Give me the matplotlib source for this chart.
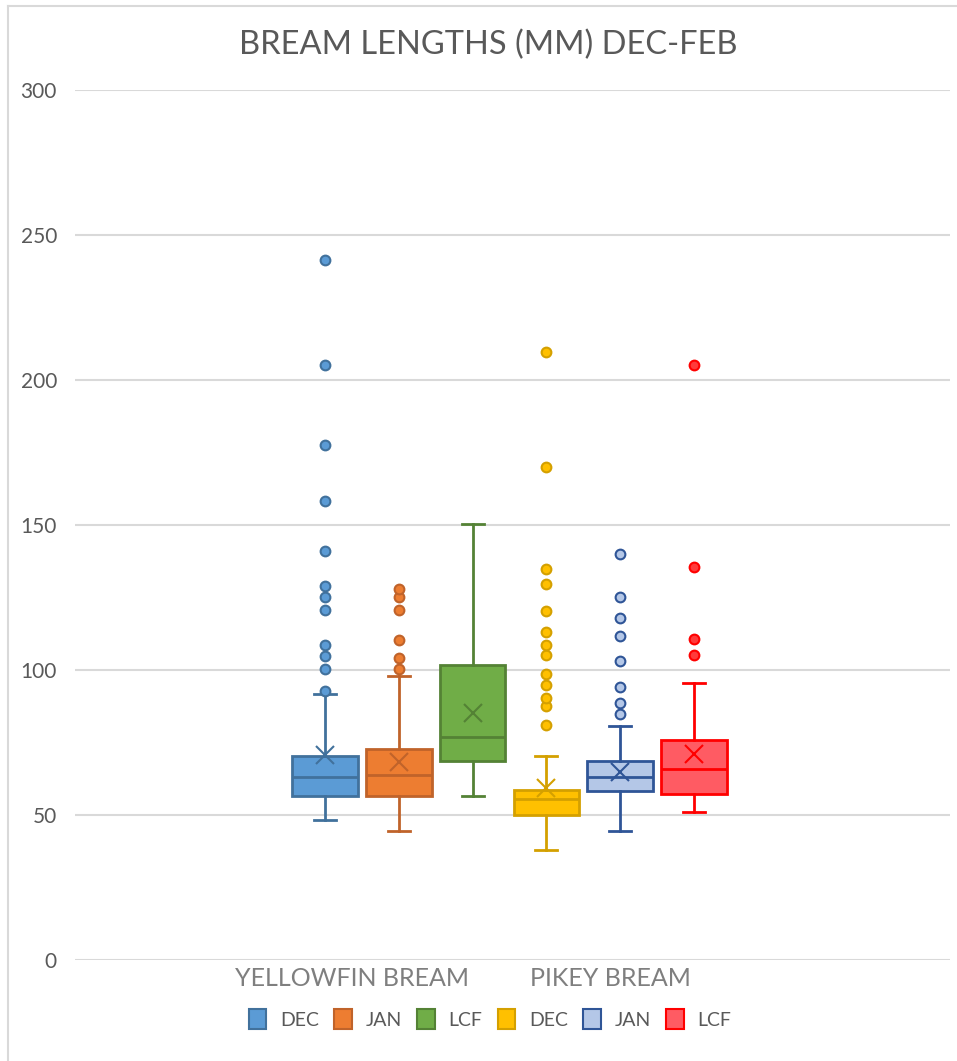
import matplotlib
matplotlib.use("Agg")
import matplotlib.pyplot as plt
from matplotlib.patches import Patch
from matplotlib.lines import Line2D

plt.rcParams['font.family'] = ['Lato', 'DejaVu Sans']

# ---- data (mm) ----
series_names = ["DEC", "JAN", "LCF", "DEC", "JAN", "LCF"]
categories = ["YELLOWFIN BREAM", "PIKEY BREAM"]

whis_lo = [48.2, 44.4, 56.5, 38.1, 44.4, 50.9]
q1      = [56.5, 56.5, 68.6, 49.9, 58.4, 57.2]
median  = [63.0, 63.9, 76.8, 55.6, 63.0, 65.7]
q3      = [70.4, 72.9, 101.6, 58.5, 68.6, 75.9]
whis_hi = [91.6, 98.0, 150.2, 70.4, 80.6, 95.4]
means   = [70.6, 68.4, 85.1, 59.3, 64.8, 71.1]
fliers  = [
    [92.9, 100.4, 105.0, 108.7, 120.7, 125.3, 129.0, 141.0, 158.2, 177.5, 205.1, 241.3],
    [100.4, 104.1, 110.5, 120.7, 125.3, 128.0],
    [],
    [81.1, 87.7, 90.4, 95.0, 98.6, 105.1, 108.6, 113.2, 120.5, 129.6, 135.0, 170.1, 209.7],
    [84.8, 88.5, 94.1, 103.2, 111.6, 117.9, 125.2, 140.0],
    [105.2, 110.8, 135.6, 205.2],
]

face_colors = ["#5B9BD5", "#ED7D31", "#70AD47", "#FFC000", "#B4C7E7", "#FF5B63"]
edge_colors = ["#41719C", "#C0632A", "#548235", "#D4A000", "#2F5597", "#FF0000"]
flier_faces = ["#5B9BD5", "#ED7D31", "#70AD47", "#FFC000", "#B4C7E7", "#FF3B3B"]

W, H = 957, 1061
fig = plt.figure(figsize=(W / 100, H / 100), dpi=100)

# chart border (left + top)
fig.add_artist(Line2D([8 / W, 8 / W], [0, 1 - 6 / H], color="#D9D9D9", lw=1.5))
fig.add_artist(Line2D([8 / W, 1], [1 - 6 / H, 1 - 6 / H], color="#D9D9D9", lw=1.5))

ax = fig.add_axes([75 / W, (H - 960) / H, 875 / W, 870 / H])
step = 73.8
positions = [i for i in range(6)]
ax.set_xlim((75 - 325) / step, (950 - 325) / step)
ax.set_ylim(0, 300)

for i in range(6):
    st = dict(med=median[i], q1=q1[i], q3=q3[i], whislo=whis_lo[i],
              whishi=whis_hi[i], mean=means[i], fliers=fliers[i])
    ec = edge_colors[i]
    ax.bxp([st], positions=[positions[i]], widths=0.89, patch_artist=True,
           showmeans=True, meanline=False,
           boxprops=dict(facecolor=face_colors[i], edgecolor=ec, linewidth=2),
           medianprops=dict(color=ec, linewidth=2),
           whiskerprops=dict(color=ec, linewidth=2),
           capprops=dict(color=ec, linewidth=2),
           capwidths=0.3,
           meanprops=dict(marker="x", markeredgecolor=ec, markersize=13, markeredgewidth=1.5),
           flierprops=dict(marker="o", markerfacecolor=flier_faces[i], markeredgecolor=ec,
                           markersize=7, markeredgewidth=1.5),
           zorder=3)

ax.set_yticks([0, 50, 100, 150, 200, 250, 300])
ax.grid(axis="y", color="#D9D9D9", linewidth=1.5, zorder=0)
ax.set_axisbelow(True)
for s in ax.spines.values():
    s.set_visible(False)
ax.tick_params(axis="y", length=0, pad=13, labelsize=15, labelcolor="#595959")

cat_pos = [(352 - 325) / step, (610 - 325) / step]
ax.set_xticks(cat_pos)
ax.set_xticklabels(categories)
ax.tick_params(axis="x", length=0, pad=5, labelsize=18, labelcolor="#7F7F7F")

fig.text(488 / W, 1 - 45 / H, "BREAM LENGTHS (MM) DEC-FEB", ha="center", va="center",
         fontsize=23.5, color="#595959")

handles = [Patch(facecolor=face_colors[i], edgecolor=edge_colors[i], linewidth=1.5,
                 label=series_names[i]) for i in range(6)]
fig.legend(handles=handles, loc="center", bbox_to_anchor=(490 / W, 1 - 1019 / H),
           ncol=6, frameon=False, fontsize=14, labelcolor="#595959",
           handlelength=0.9, handleheight=1.2, handletextpad=0.7, columnspacing=0.8)

fig.savefig("out.png", dpi=100, facecolor="white")
